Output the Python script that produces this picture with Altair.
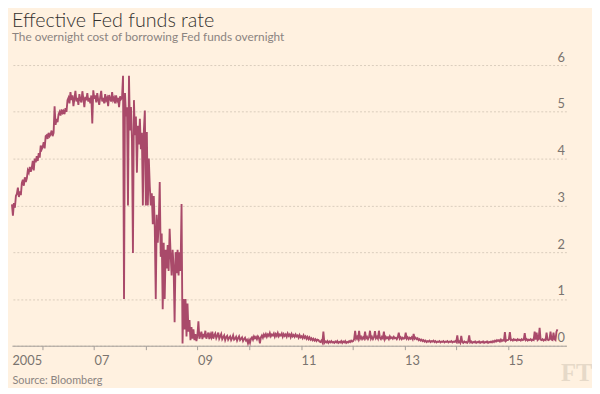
import altair as alt
import pandas as pd

# Weekly readings of the effective Fed funds rate (%), starting 2005-06-01
START = "2005-06-01"

v2005 = [3.02, 2.78, 3.05, 2.95, 3.20, 3.25, 3.38, 3.18, 3.30, 3.22, 3.48, 3.55, 3.42,
         3.60, 3.50, 3.58, 3.75, 3.70, 3.82, 3.72, 3.80, 3.95, 3.75, 4.00, 3.92, 4.05,
         3.95, 4.12, 4.02, 4.28, 4.20]
v2006 = [4.25, 4.35, 4.22, 4.48, 4.50, 4.42, 4.55, 4.48, 4.52, 4.60, 4.48, 4.55, 5.12,
         4.72, 4.85, 4.78, 4.95, 5.00, 4.92, 5.05, 4.98, 5.02, 4.95, 5.08, 5.00, 5.25,
         5.30, 5.18, 5.42, 5.25, 5.35, 5.12, 5.28, 5.45, 5.22, 5.30, 5.15, 5.38, 5.26,
         5.20, 5.44, 5.28, 5.10, 5.32, 5.25, 5.40, 5.22, 5.30, 5.18, 5.35, 4.75, 5.46]
v2007 = [5.28, 5.35, 5.20, 5.40, 5.25, 5.15, 5.32, 5.45, 5.22, 5.30, 5.18, 5.38, 5.25,
         5.30, 5.12, 5.36, 5.28, 5.22, 5.42, 5.25, 5.30, 5.18, 5.35, 5.24, 5.30, 5.10,
         5.33, 5.27,
         5.30, 5.77, 1.00, 5.40, 4.90, 5.10, 3.00, 5.77, 4.60, 5.10, 4.40, 1.98, 5.25,
         4.50, 4.90, 3.70, 4.70, 4.30, 4.85, 4.20, 4.55, 3.00, 4.60, 5.03]
v2008 = [3.00, 4.57, 3.00, 4.00, 3.40, 3.00, 3.26, 2.60, 3.20, 2.53, 1.00, 2.80, 2.20,
         2.60, 3.50, 1.90, 2.40, 0.78, 2.20, 1.00, 2.05, 1.65, 2.15, 1.60, 2.50, 1.95,
         1.50, 2.05, 1.70, 0.50, 2.00, 1.55, 2.05, 1.50, 2.00, 1.60, 3.03, 0.05, 1.00,
         0.35, 1.00, 0.20, 0.90, 0.30, 0.55, 0.12, 0.40, 0.15, 0.35, 0.12, 0.25, 0.10]
v2009 = [0.22, 0.52, 0.15, 0.22, 0.30, 0.14, 0.25, 0.18, 0.32, 0.15, 0.22, 0.28, 0.14,
         0.24, 0.18, 0.30, 0.15, 0.22, 0.26, 0.16, 0.21, 0.28, 0.15, 0.20, 0.25, 0.14,
         0.18, 0.22, 0.12, 0.18, 0.21, 0.13, 0.17, 0.20, 0.12, 0.16, 0.22, 0.13, 0.15,
         0.19, 0.11, 0.16, 0.20, 0.12, 0.15, 0.18, 0.10, 0.14, 0.17, 0.11, 0.13, 0.05]
v2010 = [0.12, 0.06, 0.15, 0.18, 0.13, 0.20, 0.16, 0.19, 0.14, 0.20, 0.17, 0.05, 0.18,
         0.22, 0.17, 0.24, 0.20, 0.25, 0.19, 0.24, 0.21, 0.27, 0.20, 0.24, 0.22, 0.26,
         0.19, 0.25, 0.21, 0.27, 0.20, 0.24, 0.22, 0.26, 0.19, 0.25, 0.21, 0.24, 0.19,
         0.26, 0.21, 0.24, 0.18, 0.25, 0.20, 0.23, 0.19, 0.24, 0.20, 0.22, 0.17, 0.23,
         0.18]
v2011 = [0.20, 0.16, 0.22, 0.17, 0.20, 0.15, 0.19, 0.14, 0.18, 0.13, 0.16, 0.12, 0.15,
         0.11, 0.14, 0.10, 0.13, 0.12, 0.09, 0.08, 0.11, 0.07, 0.30, 0.06, 0.09, 0.07,
         0.10, 0.06, 0.09, 0.07, 0.10, 0.07, 0.08, 0.06, 0.09, 0.07, 0.10, 0.06, 0.08,
         0.07, 0.10, 0.06, 0.09, 0.07, 0.10, 0.06, 0.08, 0.07, 0.10, 0.08, 0.11, 0.09]
v2012 = [0.10, 0.14, 0.32, 0.15, 0.19, 0.14, 0.32, 0.15, 0.19, 0.14, 0.18, 0.15, 0.30,
         0.16, 0.19, 0.14, 0.18, 0.32, 0.15, 0.19, 0.14, 0.18, 0.31, 0.16, 0.19, 0.15,
         0.32, 0.17, 0.14, 0.19, 0.16, 0.30, 0.14, 0.19, 0.16, 0.18, 0.14, 0.20, 0.16,
         0.18, 0.15, 0.19, 0.16, 0.17, 0.14, 0.18, 0.28, 0.15, 0.18, 0.14, 0.17, 0.15]
v2013 = [0.16, 0.28, 0.15, 0.18, 0.14, 0.17, 0.15, 0.18, 0.14, 0.25, 0.15, 0.17, 0.14,
         0.16, 0.12, 0.14, 0.11, 0.13, 0.10, 0.12, 0.09, 0.11, 0.08, 0.10, 0.09, 0.11,
         0.08, 0.10, 0.09, 0.11, 0.08, 0.10, 0.07, 0.09, 0.08, 0.10, 0.07, 0.09, 0.08,
         0.10, 0.07, 0.09, 0.08, 0.10, 0.07, 0.09, 0.08, 0.10, 0.07, 0.09, 0.08, 0.10]
v2014 = [0.08, 0.22, 0.07, 0.09, 0.06, 0.21, 0.08, 0.06, 0.09, 0.07, 0.08, 0.06, 0.09,
         0.22, 0.07, 0.09, 0.06, 0.08, 0.07, 0.09, 0.06, 0.08, 0.07, 0.09, 0.06, 0.08,
         0.07, 0.09, 0.06, 0.08, 0.07, 0.09, 0.06, 0.08, 0.07, 0.09, 0.07, 0.10, 0.08,
         0.11, 0.09, 0.12, 0.10, 0.12, 0.09, 0.13, 0.10, 0.12, 0.11, 0.29, 0.10, 0.12]
v2015 = [0.12, 0.14, 0.29, 0.12, 0.13, 0.11, 0.14, 0.12, 0.13, 0.11, 0.14, 0.12, 0.13,
         0.11, 0.14, 0.12, 0.13, 0.27, 0.12, 0.14, 0.11, 0.13, 0.12, 0.14, 0.11, 0.13,
         0.12, 0.30, 0.13, 0.28, 0.12, 0.14, 0.38, 0.13, 0.12, 0.14, 0.11, 0.13, 0.12,
         0.28, 0.13, 0.12, 0.14, 0.30, 0.13, 0.12, 0.28, 0.14, 0.12, 0.30, 0.35]

rates = v2005 + v2006 + v2007 + v2008 + v2009 + v2010 + v2011 + v2012 + v2013 + v2014 + v2015
dates = pd.date_range(START, periods=len(rates), freq="7D").strftime("%Y-%m-%d")
df = pd.DataFrame({"date": list(dates), "rate": rates})

x_start = (2005, 6, 1)
x_end = (2016, 2, 17)
tick_years = list(range(2006, 2016))
y_ticks = [0, 1, 2, 3, 4, 5, 6]

BG = "#fff1e0"
LINE = "#a94a6a"
GREY = "#7a746f"
LABEL_FONT = "Lato"
TEXT_FONT = "Lato"

dt = lambda y, m, d: alt.DateTime(year=y, month=m, date=d, utc=True)
x_values = [dt(*x_start)] + [dt(y, 1, 1) for y in tick_years]

chart = alt.Chart(df).mark_line(color=LINE, strokeWidth=1.9).encode(
    x=alt.X(
        "date:T",
        scale=alt.Scale(type="utc", domain=[dt(*x_start), dt(*x_end)]),
        axis=alt.Axis(
            values=x_values,
            labelExpr="utcyear(datum.value) < 2006 ? '2005' : (utcyear(datum.value) % 2 == 1 ? utcFormat(datum.value, '%y') : '')",
            grid=False,
            domainColor="#a39d98",
            tickColor="#a39d98",
            tickSize=4,
            tickOpacity={"condition": {"test": "utcyear(datum.value) < 2006", "value": 0}, "value": 1},
            labelAlign="left",
            labelBaseline="top",
            labelPadding=5,
            labelOverlap=False,
            labelFlush=False,
            labelFont=LABEL_FONT,
            labelFontSize=13,
            labelColor=GREY,
            title="Source: Bloomberg",
            titleAnchor="start",
            titleAlign="left",
            titleFont=TEXT_FONT,
            titleFontSize=11,
            titleFontWeight="normal",
            titleColor="#8b8480",
            titlePadding=7,
        ),
    ),
    y=alt.Y(
        "rate:Q",
        scale=alt.Scale(domain=[0, 6], nice=False),
        axis=alt.Axis(
            orient="right",
            values=y_ticks,
            domain=False,
            ticks=False,
            grid=True,
            gridColor="#d9ccbc",
            gridDash=[2, 2],
            gridWidth=1,
            labelAlign="right",
            labelBaseline="alphabetic",
            labelPadding=-2,
            labelOffset=-4,
            labelFont=LABEL_FONT,
            labelFontSize=13,
            labelColor=GREY,
            title="FT",
            titleAngle=0,
            titleX=-6,
            titleY=320,
            titleAlign="left",
            titleBaseline="alphabetic",
            titleFont="Liberation Serif",
            titleFontSize=25,
            titleFontWeight="bold",
            titleColor="#e6d9c8",
        ),
    ),
).properties(
    width=563,
    height=285,
    padding=0,
    background=BG,
    title=alt.TitleParams(
        text="Effective Fed funds rate",
        subtitle="The overnight cost of borrowing Fed funds overnight",
        anchor="start",
        frame="group",
        font=TEXT_FONT,
        fontSize=20,
        fontWeight=300,
        color="#33302e",
        subtitleFont=TEXT_FONT,
        subtitleFontSize=12,
        subtitleColor="#8b8480",
        subtitlePadding=2,
        offset=8,
    ),
).configure_view(stroke=None)

chart.save("out.html", embed_options={"renderer": "svg", "actions": False})
